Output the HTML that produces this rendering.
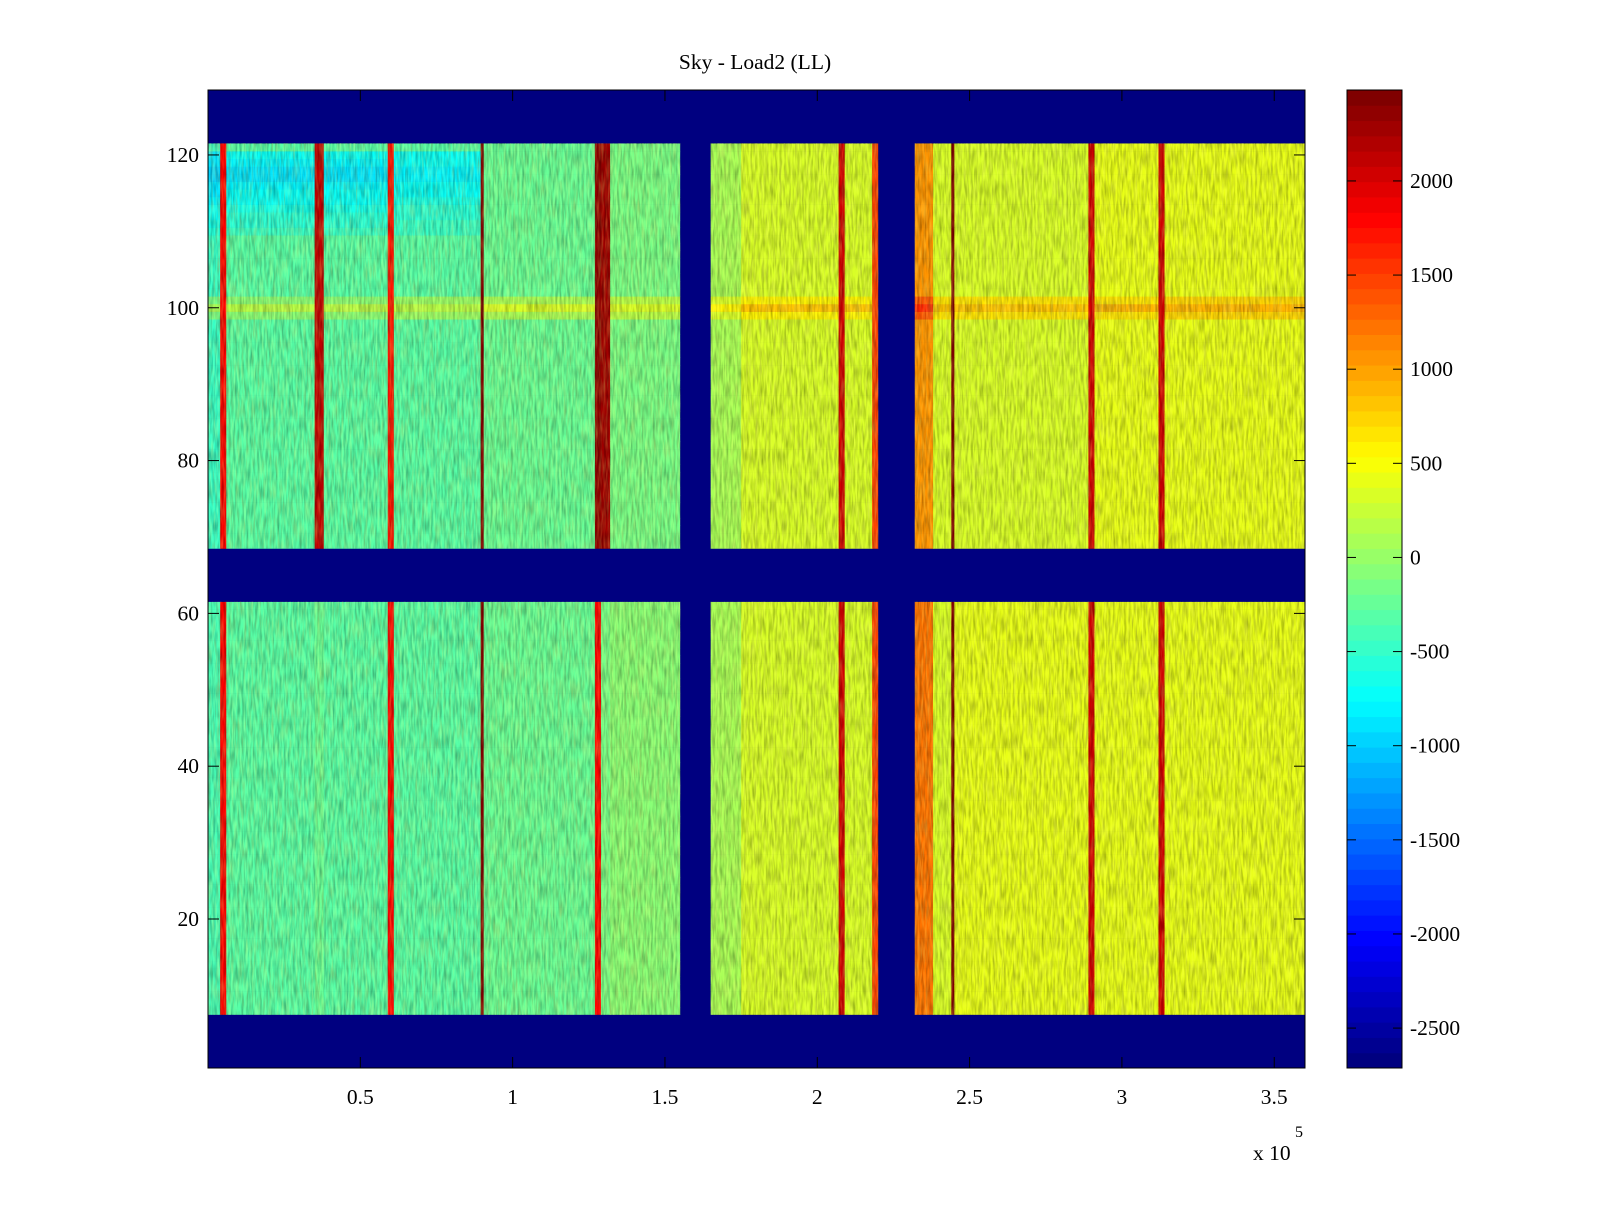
<!DOCTYPE html>
<html><head><meta charset="utf-8"><style>
html,body{margin:0;padding:0;background:#fff;}
svg text{font-family:"Liberation Serif",serif;font-size:21.5px;fill:#000;}
</style></head><body>
<svg id="chart" width="1600" height="1200" xmlns="http://www.w3.org/2000/svg">
<defs>
<filter id="streaks" x="0" y="0" width="100%" height="100%">
<feTurbulence type="fractalNoise" baseFrequency="0.45 0.06" numOctaves="2" seed="3"/>
<feColorMatrix type="matrix" values="0 0 0 0 0  0 0 0 0 0  0 0 0 0 0  1.6 0 0 0 -0.55"/>
</filter>
<filter id="streaks2" x="0" y="0" width="100%" height="100%">
<feTurbulence type="fractalNoise" baseFrequency="0.5 0.05" numOctaves="2" seed="11"/>
<feColorMatrix type="matrix" values="0 0 0 0 1  0 0 0 0 1  0 0 0 0 0.2  1.6 0 0 0 -0.6"/>
</filter>
</defs>
<rect width="1600" height="1200" fill="#fff"/>
<text x="755" y="69" text-anchor="middle">Sky - Load2 (LL)</text>
<g id="cells"></g>
<g id="texture"></g>
<g id="cbar"></g>
<g id="axes"></g>
</svg>
<script>
// x segments in units of 1e5
const segStart = [0,0.04,0.06,0.35,0.38,0.59,0.61,0.895,0.905,1.27,1.29,1.32,1.55,1.65,1.75,2.07,2.09,2.18,2.20,2.32,2.38,2.44,2.45,2.89,2.91,3.12,3.14];
const segEnd   = [0.04,0.06,0.35,0.38,0.59,0.61,0.895,0.905,1.27,1.29,1.32,1.55,1.65,1.75,2.07,2.09,2.18,2.20,2.32,2.38,2.44,2.45,2.89,2.91,3.12,3.14,3.6];
const topVals  = [-450,1800,-350,2100,-350,1700,-300,2500,-200,2400,2300,-150,-2700,50,300,2000,300,1500,-2700,1100,350,2500,350,2000,380,2000,420];
const bottomVals=[-400,1800,-350,-200,-350,1800,-300,2500,-200,1800,-150,-100,-2700,100,330,2000,330,1500,-2700,1200,350,2500,380,2000,380,2000,420];
// row offsets: rows with special bias
const hotRows = [99,100,101];
const hotOffset = [300,500,300];
const coolRows = [110,111,112,113,114,115,116,117,118,119,120];
const coolOffset = [-150,-200,-250,-300,-350,-400,-450,-500,-500,-450,-400];
const blankRows = [[1,7],[62,68],[122,128]];
const cbTicks = [2000,1500,1000,500,0,-500,-1000,-1500,-2000,-2500];
const xTicks = [0.5,1,1.5,2,2.5,3,3.5];
const xTickLabels = ["0.5","1","1.5","2","2.5","3","3.5"];
const yTicks = [20,40,60,80,100,120];

const X0=208,X1=1305,Y0=90,Y1=1068;
const xMin=0,xMax=3.601,yMin=0.5,yMax=128.5,cMin=-2712,cMax=2483;
const sx=v=>X0+(v-xMin)/(xMax-xMin)*(X1-X0);
const sy=v=>Y1-(v-yMin)/(yMax-yMin)*(Y1-Y0);
const CB0=90,CB1=1068,CBX=1347,CBW=55;
const sc=v=>CB1-(v-cMin)/(cMax-cMin)*(CB1-CB0);
function clamp(v){return Math.max(0,Math.min(1,v));}
function jet(v){
  let t=clamp((v-cMin)/(cMax-cMin));
  t=Math.floor(t*63.999)/63;
  const r=clamp(1.5-Math.abs(4*t-3)),g=clamp(1.5-Math.abs(4*t-2)),b=clamp(1.5-Math.abs(4*t-1));
  return `rgb(${Math.round(r*255)},${Math.round(g*255)},${Math.round(b*255)})`;
}
const NS="http://www.w3.org/2000/svg";
function mk(tag,attrs,parent){const e=document.createElementNS(NS,tag);for(const k in attrs)e.setAttribute(k,attrs[k]);parent.appendChild(e);return e;}
const cells=document.getElementById('cells');
mk('rect',{x:X0,y:Y0,width:X1-X0,height:Y1-Y0,fill:jet(cMin)},cells);
for(let r=1;r<=128;r++){
  if(blankRows.some(b=>r>=b[0]&&r<=b[1]))continue;
  const top=r>=65;
  const hi=hotRows.indexOf(r);
  const ci=coolRows.indexOf(r);
  for(let s=0;s<segStart.length;s++){
    let v=(top?topVals[s]:bottomVals[s]);
    if(v>-2700){
      if(hi>=0 && v<1500) v+=hotOffset[hi];
      if(ci>=0 && segEnd[s]<=0.9 && v<1500) v+=coolOffset[ci];
    }
    const y=sy(r+0.5),h=sy(r-0.5)-y;
    const el=mk('rect',{x:sx(segStart[s]),y:y,width:sx(segEnd[s])-sx(segStart[s])+0.5,height:h+0.3,fill:jet(v)},cells);
    
    
  }
}
// texture overlays (styling only) over data bands
const tex=document.getElementById('texture');
[[8,61],[69,121]].forEach(b=>{
  const y=sy(b[1]+0.5),h=sy(b[0]-0.5)-y;
  [[0,1.55],[1.65,2.2],[2.32,3.6]].forEach(xr=>{
    const a=mk('rect',{x:sx(xr[0]),y:y,width:sx(xr[1])-sx(xr[0]),height:h,filter:'url(#streaks)',opacity:0.35},tex);
    
    
    const c=mk('rect',{x:sx(xr[0]),y:y,width:sx(xr[1])-sx(xr[0]),height:h,filter:'url(#streaks2)',opacity:0.35},tex);
    
    
  });
});
// colorbar
const cb=document.getElementById('cbar');
for(let i=0;i<64;i++){
  const v0=cMin+i*(cMax-cMin)/64,v1=cMin+(i+1)*(cMax-cMin)/64;
  const el=mk('rect',{x:CBX,y:sc(v1),width:CBW,height:sc(v0)-sc(v1)+0.5,fill:jet((v0+v1)/2)},cb);
  
  
}
mk('rect',{x:CBX,y:CB0,width:CBW,height:CB1-CB0,fill:'none',stroke:'#000','stroke-width':1},cb);
cbTicks.forEach(t=>{
  const y=sc(t);
  mk('line',{x1:CBX,x2:CBX+9,y1:y,y2:y,stroke:'#000'},cb);
  mk('line',{x1:CBX+CBW-9,x2:CBX+CBW,y1:y,y2:y,stroke:'#000'},cb);
  const tx=mk('text',{x:CBX+CBW+8,y:y+7},cb);tx.textContent=t;
  
  
});
// axes
const ax=document.getElementById('axes');
mk('rect',{x:X0,y:Y0,width:X1-X0,height:Y1-Y0,fill:'none',stroke:'#000'},ax);
xTicks.forEach((t,i)=>{
  const x=sx(t);
  mk('line',{x1:x,x2:x,y1:Y1,y2:Y1-11,stroke:'#000'},ax);
  mk('line',{x1:x,x2:x,y1:Y0,y2:Y0+11,stroke:'#000'},ax);
  const tx=mk('text',{x:x,y:1104,'text-anchor':'middle'},ax);tx.textContent=xTickLabels[i];
  
  
});
yTicks.forEach(t=>{
  const y=sy(t);
  mk('line',{x1:X0,x2:X0+11,y1:y,y2:y,stroke:'#000'},ax);
  mk('line',{x1:X1-11,x2:X1,y1:y,y2:y,stroke:'#000'},ax);
  const tx=mk('text',{x:199,y:y+7,'text-anchor':'end'},ax);tx.textContent=t;
  
  
});
const ex=mk('text',{x:1253,y:1160},ax);ex.textContent='x 10';


const e5=mk('text',{x:1295,y:1137,style:'font-size:16px'},ax);e5.textContent='5';


</script>
</body></html>
